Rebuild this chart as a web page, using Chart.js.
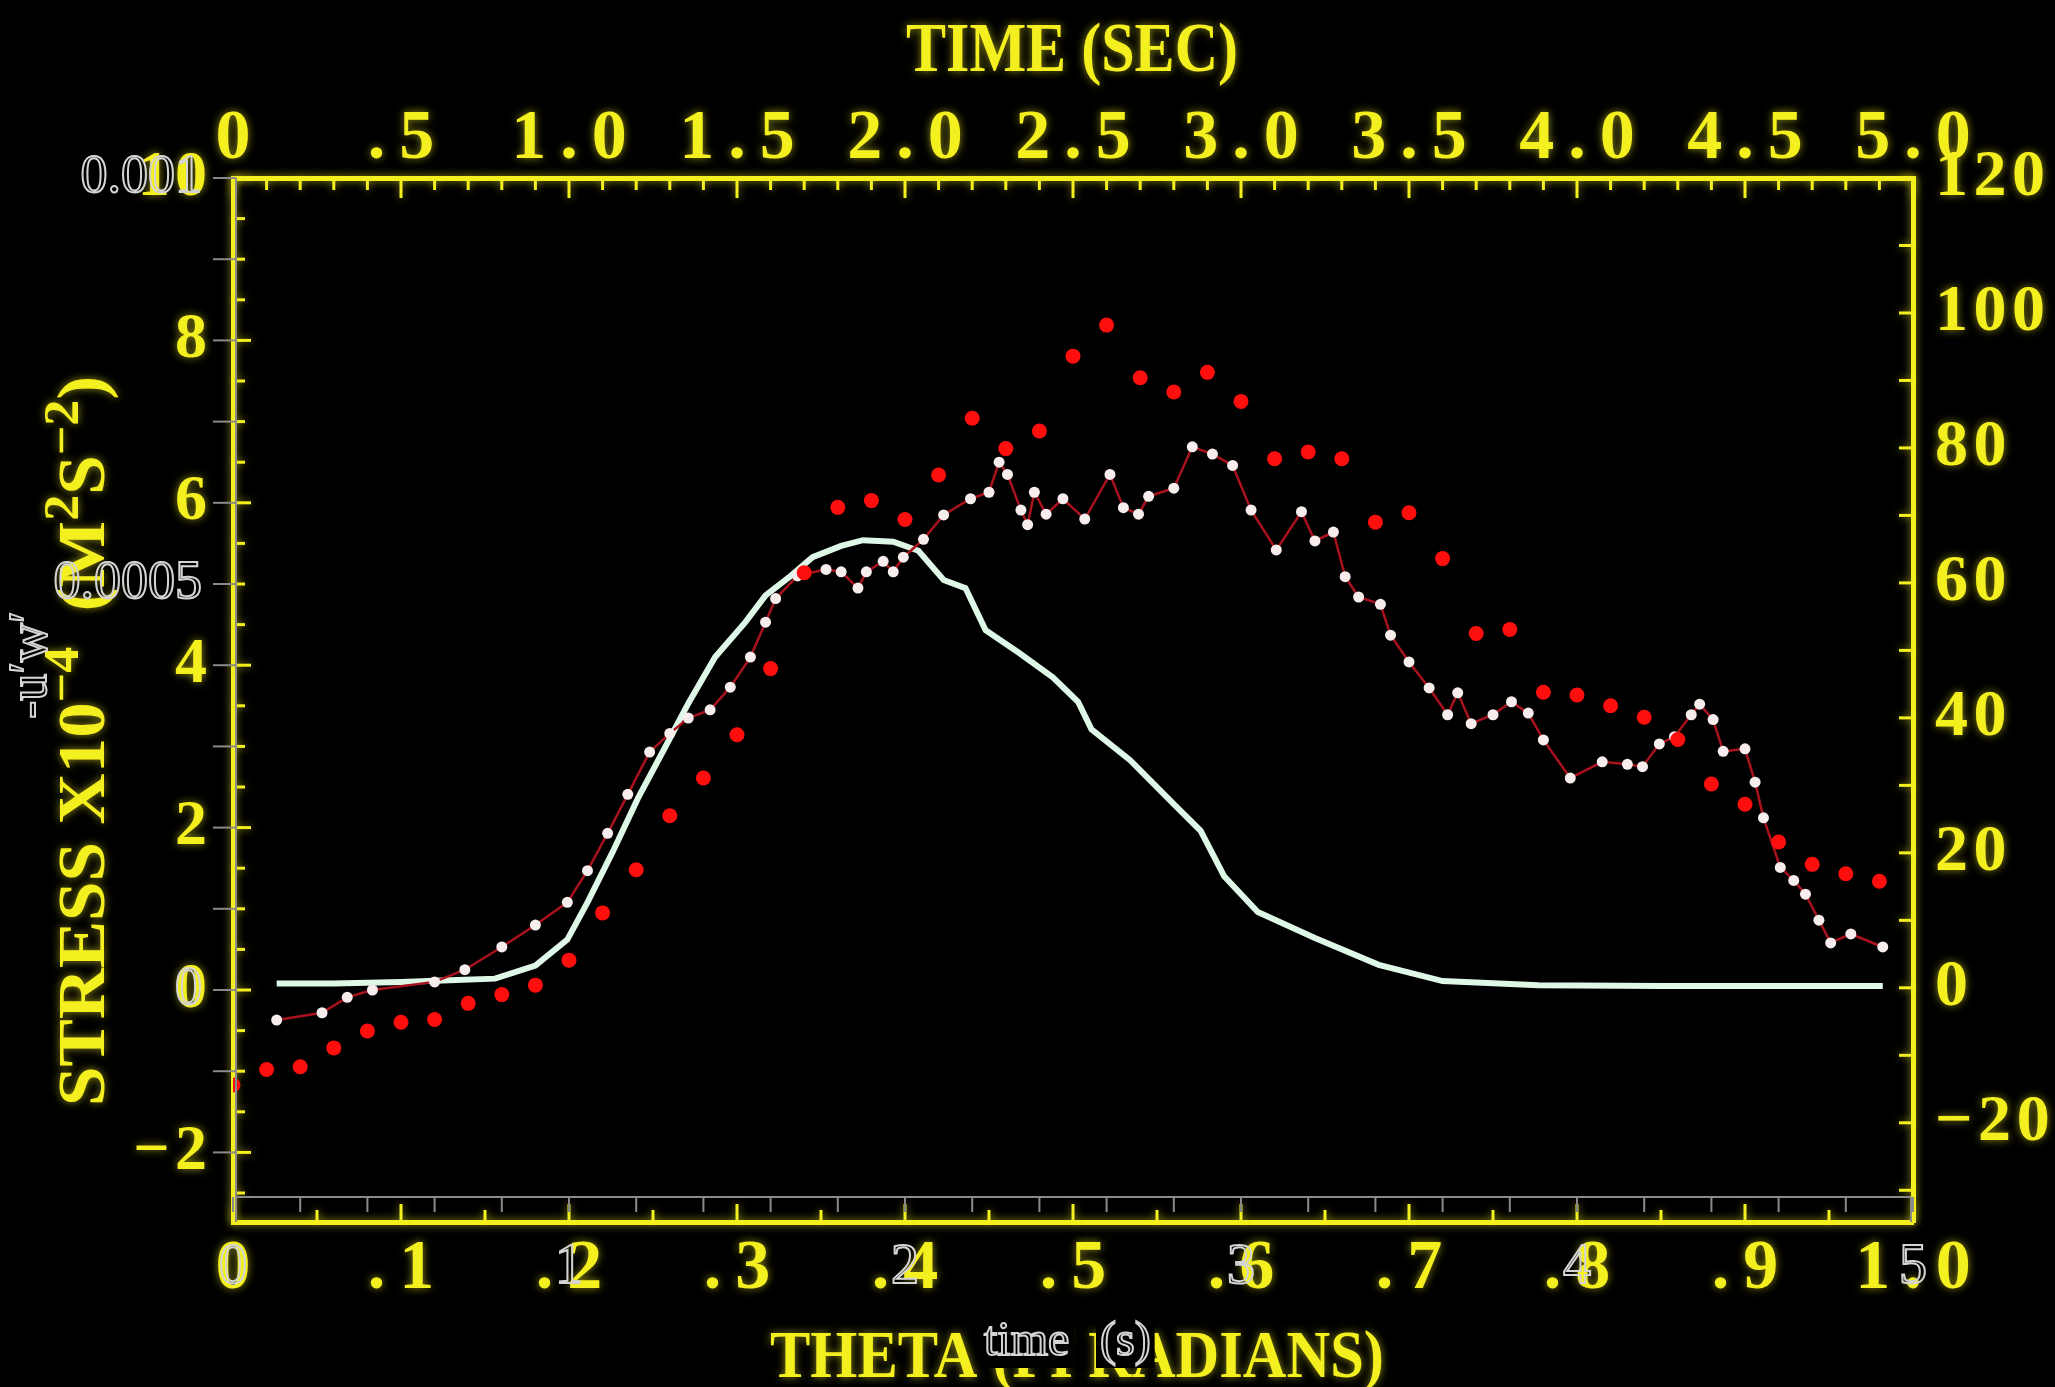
<!DOCTYPE html>
<html>
<head>
<meta charset="utf-8">
<script src="https://cdn.jsdelivr.net/npm/chart.js@4.4.1/dist/chart.umd.min.js"></script>
<style>
html, body { margin: 0; padding: 0; background: #000; }
#wrap { width: 2055px; height: 1387px; position: relative; }
</style>
</head>
<body>
<div id="wrap"><canvas id="chart"></canvas></div>
<script>
// smooth curve (theta in pi radians, stress x1e-4)
const kThetaSmooth = [0.026, 0.06, 0.1, 0.129, 0.156, 0.18, 0.199, 0.211, 0.226, 0.241, 0.257, 0.271, 0.287, 0.305, 0.317, 0.332, 0.345, 0.362, 0.375, 0.393, 0.408, 0.423, 0.436, 0.448, 0.468, 0.488, 0.503, 0.511, 0.534, 0.56, 0.576, 0.59, 0.61, 0.644, 0.682, 0.72, 0.777, 0.85, 0.92, 0.982];
const kStressSmooth = [0.08, 0.08, 0.1, 0.12, 0.14, 0.3, 0.62, 1.08, 1.7, 2.36, 2.98, 3.53, 4.1, 4.53, 4.86, 5.1, 5.33, 5.47, 5.54, 5.52, 5.41, 5.05, 4.95, 4.43, 4.15, 3.85, 3.55, 3.21, 2.83, 2.29, 1.96, 1.4, 0.96, 0.64, 0.31, 0.11, 0.06, 0.05, 0.05, 0.05];

// dotted curve (white dots joined by a thin red line)
const kThetaDotted = [0.026, 0.053, 0.068, 0.083, 0.12, 0.138, 0.16, 0.18, 0.199, 0.211, 0.223, 0.235, 0.248, 0.26, 0.271, 0.284, 0.296, 0.308, 0.317, 0.323, 0.336, 0.353, 0.362, 0.372, 0.377, 0.387, 0.393, 0.399, 0.411, 0.423, 0.439, 0.45, 0.456, 0.461, 0.469, 0.473, 0.477, 0.484, 0.494, 0.507, 0.522, 0.53, 0.539, 0.545, 0.56, 0.571, 0.583, 0.595, 0.606, 0.621, 0.636, 0.644, 0.655, 0.662, 0.67, 0.683, 0.689, 0.7, 0.712, 0.723, 0.729, 0.737, 0.75, 0.761, 0.771, 0.78, 0.796, 0.815, 0.83, 0.839, 0.849, 0.858, 0.868, 0.873, 0.881, 0.887, 0.9, 0.906, 0.911, 0.921, 0.929, 0.936, 0.944, 0.951, 0.963, 0.982];
const kStressDotted = [-0.37, -0.28, -0.09, 0, 0.1, 0.25, 0.53, 0.8, 1.08, 1.47, 1.93, 2.41, 2.93, 3.16, 3.35, 3.45, 3.73, 4.1, 4.53, 4.82, 5.1, 5.18, 5.15, 4.95, 5.15, 5.28, 5.15, 5.33, 5.55, 5.85, 6.05, 6.13, 6.5, 6.35, 5.91, 5.73, 6.13, 5.86, 6.05, 5.8, 6.35, 5.94, 5.86, 6.08, 6.18, 6.69, 6.6, 6.46, 5.91, 5.42, 5.89, 5.53, 5.64, 5.09, 4.84, 4.75, 4.37, 4.04, 3.72, 3.39, 3.66, 3.28, 3.39, 3.55, 3.41, 3.08, 2.61, 2.81, 2.78, 2.75, 3.03, 3.12, 3.39, 3.52, 3.33, 2.94, 2.97, 2.56, 2.12, 1.51, 1.35, 1.18, 0.86, 0.58, 0.69, 0.53];

// red markers, read on the right-hand axis
const kThetaRed = [0, 0.02, 0.04, 0.06, 0.08, 0.1, 0.12, 0.14, 0.16, 0.18, 0.2, 0.22, 0.24, 0.26, 0.28, 0.3, 0.32, 0.34, 0.36, 0.38, 0.4, 0.42, 0.44, 0.46, 0.48, 0.5, 0.52, 0.54, 0.56, 0.58, 0.6, 0.62, 0.64, 0.66, 0.68, 0.7, 0.72, 0.74, 0.76, 0.78, 0.8, 0.82, 0.84, 0.86, 0.88, 0.9, 0.92, 0.94, 0.96, 0.98];
const kValueRed = [-14.4, -12.1, -11.7, -8.9, -6.4, -5.1, -4.7, -2.3, -1.0, 0.4, 4.1, 11.1, 17.5, 25.5, 31.1, 37.5, 47.3, 61.5, 71.2, 72.2, 69.4, 76.0, 84.4, 79.9, 82.5, 93.6, 98.2, 90.4, 88.3, 91.2, 86.9, 78.4, 79.4, 78.4, 69.0, 70.4, 63.6, 52.5, 53.1, 43.8, 43.4, 41.8, 40.1, 36.8, 30.2, 27.2, 21.6, 18.3, 16.9, 15.8];

// tick values and labels
const kThetaTicks = [0, 0.1, 0.2, 0.3, 0.4, 0.5, 0.6, 0.7, 0.8, 0.9, 1.0];
const kThetaTickLabels = ["0", ".1", ".2", ".3", ".4", ".5", ".6", ".7", ".8", ".9", "1.0"];
const kTimeTicks = [0, 0.5, 1.0, 1.5, 2.0, 2.5, 3.0, 3.5, 4.0, 4.5, 5.0];
const kTimeTickLabels = ["0", ".5", "1.0", "1.5", "2.0", "2.5", "3.0", "3.5", "4.0", "4.5", "5.0"];
const kStressTicks = [-2, 0, 2, 4, 6, 8, 10];
const kStressTickLabels = ["\u22122", "0", "2", "4", "6", "8", "10"];
const kRightTicks = [-20, 0, 20, 40, 60, 80, 100, 120];
const kRightTickLabels = ["\u221220", "0", "20", "40", "60", "80", "100", "120"];

// grey overlay axis (time in s, -u'w')
const kGrayTimeTicks = [0, 1, 2, 3, 4, 5];
const kGrayStressValues = [0, 5, 10];
const kGrayStressLabels = ["0", "0.0005", "0.001"];
const kGrayFloor = -2.55;

const kYellow = "#f4ef1f";
const kGray = "#d4d4d4";
const kSerif = "\"Liberation Serif\", \"DejaVu Serif\", serif";

const spaced = (s, gap) => s.split("").join(gap);

function line(ctx, x1, y1, x2, y2) {
	ctx.beginPath();
	ctx.moveTo(x1, y1);
	ctx.lineTo(x2, y2);
	ctx.stroke();
}

function setGlow(ctx) {
	ctx.shadowColor = "rgba(244, 239, 31, 0.6)";
	ctx.shadowBlur = 8;
}

function clearGlow(ctx) {
	ctx.shadowColor = "rgba(0, 0, 0, 0)";
	ctx.shadowBlur = 0;
}

// text squeezed horizontally to a given width
function fitText(ctx, text, cx, baseline, font, width) {
	ctx.font = font;
	const w = ctx.measureText(text).width;
	ctx.save();
	ctx.translate(cx, baseline);
	ctx.scale(width / w, 1);
	ctx.textAlign = "center";
	ctx.textBaseline = "alphabetic";
	ctx.fillText(text, 0, 0);
	ctx.restore();
}

// rotated axis title with superscripts, fitted between two heights
function drawStressTitle(ctx) {
	const normal = `bold 68px ${kSerif}`;
	const sup = `bold 50px ${kSerif}`;
	const pieces = [
		{t: "STRESS X10", s: false},
		{t: "\u22124", s: true},
		{t: "  (M", s: false},
		{t: "2", s: true},
		{t: "S", s: false},
		{t: "\u22122", s: true},
		{t: ")", s: false}
	];
	let total = 0;
	for (const p of pieces) {
		ctx.font = p.s ? sup : normal;
		p.w = ctx.measureText(p.t).width;
		total += p.w;
	}
	const bottom = 1106, top = 376, baseline = 104;
	ctx.save();
	ctx.translate(baseline, bottom);
	ctx.rotate(-Math.PI / 2);
	ctx.scale((bottom - top) / total, 1);
	ctx.textAlign = "left";
	ctx.textBaseline = "alphabetic";
	let x = 0;
	for (const p of pieces) {
		ctx.font = p.s ? sup : normal;
		ctx.fillText(p.t, x, p.s ? -26 : 0);
		x += p.w;
	}
	ctx.restore();
}

const framePlugin = {
	id: "frame",
	beforeDraw(chart) {
		const ctx = chart.ctx;
		ctx.save();
		ctx.fillStyle = "#000";
		ctx.fillRect(0, 0, chart.width, chart.height);
		ctx.restore();
		setGlow(ctx); // axes and tick labels get the soft yellow halo
	},
	beforeDatasetsDraw(chart) {
		const {ctx, chartArea: a, scales: {x, x2, y, y2}} = chart;
		ctx.save();
		ctx.strokeStyle = kYellow;
		ctx.lineWidth = 3;
		for (let i = 0; i <= 50; i++) {
			const px = x2.getPixelForValue(i / 10);
			line(ctx, px, a.top, px, a.top + (i % 5 === 0 ? 20 : 12));
		}
		for (let i = 0; i <= 20; i++) {
			const px = x.getPixelForValue(i / 20);
			line(ctx, px, a.bottom, px, a.bottom - (i % 2 === 0 ? 18 : 12));
		}
		for (let i = -5; i <= 20; i++) {
			const py = y.getPixelForValue(i / 2);
			line(ctx, a.left, py, a.left + (i % 4 === 0 ? 18 : 12), py);
		}
		for (let i = -3; i <= 12; i++) {
			const py = y2.getPixelForValue(i * 10);
			line(ctx, a.right, py, a.right - 14, py);
		}
		ctx.restore();
		clearGlow(ctx);
	},
	afterDraw(chart) {
		const {ctx, chartArea: a, scales: {x2, y}} = chart;

		// yellow axis titles
		ctx.save();
		setGlow(ctx);
		ctx.fillStyle = kYellow;
		fitText(ctx, "TIME (SEC)", 1072, 71, `bold 70px ${kSerif}`, 332);
		fitText(ctx, "THETA (PI RADIANS)", 1077, 1377, `bold 68px ${kSerif}`, 614);
		drawStressTitle(ctx);
		ctx.restore();

		// grey overlay axes
		const gx = a.left + 3;
		const gy = y.getPixelForValue(kGrayFloor);
		ctx.save();
		ctx.strokeStyle = "#8a8a8a";
		ctx.lineWidth = 2;
		line(ctx, gx, a.top, gx, a.bottom);
		line(ctx, gx, gy, a.right - 2, gy);
		line(ctx, a.right - 2, gy, a.right - 2, a.bottom);
		for (let v = -2; v <= 10; v++) {
			const py = y.getPixelForValue(v);
			line(ctx, gx - 23, py, gx, py);
		}
		for (let i = 0; i <= 25; i++) {
			const px = x2.getPixelForValue(i / 5);
			line(ctx, px, gy, px, gy + 15);
		}

		ctx.strokeStyle = kGray;
		ctx.lineWidth = 2;
		ctx.font = `54px ${kSerif}`;
		ctx.textAlign = "right";
		ctx.textBaseline = "middle";
		kGrayStressValues.forEach((v, i) => {
			ctx.strokeText(kGrayStressLabels[i], gx - 34, y.getPixelForValue(v));
		});
		ctx.textAlign = "center";
		ctx.font = `56px ${kSerif}`;
		kGrayTimeTicks.forEach((t) => {
			ctx.strokeText(String(t), x2.getPixelForValue(t), 1268);
		});

		// "time (s)" sits on a black box over the old title
		ctx.font = `48px ${kSerif}`;
		ctx.textAlign = "left";
		ctx.textBaseline = "alphabetic";
		const words = [{t: "time", x: 984}, {t: "(s)", x: 1100}];
		for (const wd of words) {
			const w = ctx.measureText(wd.t).width;
			ctx.fillStyle = "#000";
			ctx.fillRect(wd.x - 4, 1316, w + 8, 52);
			ctx.strokeText(wd.t, wd.x, 1355);
		}

		// rotated -u'w' label
		ctx.save();
		ctx.translate(46, 665);
		ctx.rotate(-Math.PI / 2);
		ctx.font = `54px ${kSerif}`;
		ctx.textAlign = "center";
		ctx.strokeText("-u\u2032w\u2032", 0, 0);
		ctx.restore();
		ctx.restore();
	}
};

function tickFont(size) {
	return {family: kSerif, weight: "bold", size};
}

const chart = new Chart(document.getElementById("chart"), {
	type: "line",
	data: {
		datasets: [
			{
				label: "red",
				data: kThetaRed.map((t, i) => ({x: t, y: kValueRed[i]})),
				xAxisID: "x",
				yAxisID: "y2",
				showLine: false,
				pointRadius: 7.5,
				pointBackgroundColor: "#ff0e0e",
				pointBorderWidth: 0,
				clip: 0
			},
			{
				label: "dotted",
				data: kThetaDotted.map((t, i) => ({x: t, y: kStressDotted[i]})),
				xAxisID: "x",
				yAxisID: "y",
				borderColor: "#a8121d",
				borderWidth: 2.5,
				pointRadius: 5.5,
				pointBackgroundColor: "#f8eded",
				pointBorderWidth: 0,
				tension: 0
			},
			{
				label: "smooth",
				data: kThetaSmooth.map((t, i) => ({x: t, y: kStressSmooth[i]})),
				xAxisID: "x",
				yAxisID: "y",
				borderColor: "#def7e6",
				borderWidth: 6,
				pointRadius: 0,
				tension: 0
			}
		]
	},
	options: {
		animation: false,
		responsive: true,
		maintainAspectRatio: false,
		layout: {padding: 0, autoPadding: false},
		plugins: {
			legend: {display: false},
			tooltip: {enabled: false}
		},
		scales: {
			x: {
				type: "linear",
				position: "bottom",
				min: 0,
				max: 1,
				afterBuildTicks: (s) => { s.ticks = kThetaTicks.map((v) => ({value: v})); },
				afterFit: (s) => { s.height = 165; },
				grid: {display: false, drawTicks: false},
				border: {color: kYellow, width: 5},
				ticks: {
					color: kYellow,
					font: tickFont(70),
					padding: 6,
					maxRotation: 0,
					autoSkip: false,
					callback: (v, i) => spaced(kThetaTickLabels[i], "\u2009")
				}
			},
			x2: {
				type: "linear",
				position: "top",
				min: 0,
				max: 5,
				afterBuildTicks: (s) => { s.ticks = kTimeTicks.map((v) => ({value: v})); },
				afterFit: (s) => { s.height = 178; },
				grid: {display: false, drawTicks: false},
				border: {color: kYellow, width: 5},
				ticks: {
					color: kYellow,
					font: tickFont(70),
					padding: -4,
					maxRotation: 0,
					autoSkip: false,
					callback: (v, i) => spaced(kTimeTickLabels[i], "\u2009")
				}
			},
			y: {
				type: "linear",
				position: "left",
				min: -2.857,
				max: 10,
				afterBuildTicks: (s) => { s.ticks = kStressTicks.map((v) => ({value: v})); },
				afterFit: (s) => { s.width = 233; },
				grid: {display: false, drawTicks: false},
				border: {color: kYellow, width: 5},
				ticks: {
					color: kYellow,
					font: tickFont(64),
					padding: 26,
					autoSkip: false,
					callback: (v, i) => spaced(kStressTickLabels[i], "\u200A")
				}
			},
			y2: {
				type: "linear",
				position: "right",
				min: -34.7,
				max: 120,
				afterBuildTicks: (s) => { s.ticks = kRightTicks.map((v) => ({value: v})); },
				afterFit: (s) => { s.width = 142; },
				grid: {display: false, drawTicks: false},
				border: {color: kYellow, width: 5},
				ticks: {
					color: kYellow,
					font: tickFont(66),
					padding: 22,
					autoSkip: false,
					callback: (v, i) => spaced(kRightTickLabels[i], "\u200A")
				}
			}
		}
	},
	plugins: [framePlugin]
});
</script>
</body>
</html>
